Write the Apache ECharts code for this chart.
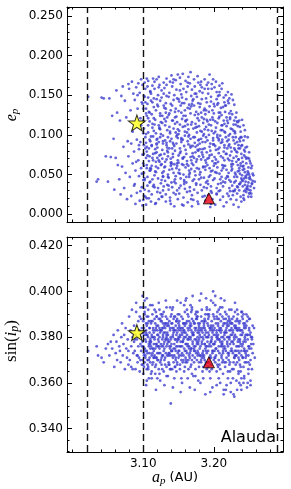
<!DOCTYPE html>
<html><head><meta charset="utf-8">
<script src="https://cdn.jsdelivr.net/npm/echarts@6/dist/echarts.min.js"></script>
<style>html,body{margin:0;padding:0;background:#fff}#c{width:291px;height:489px}</style>
</head><body><div id="c"></div>
<script>
// semi-major axis a_p (AU) of family members (shared by both panels)
const aP = [
3.022,3.034,3.036,3.041,3.044,3.047,3.050,3.052,3.054,3.056,
3.058,3.059,3.061,3.062,3.063,3.064,3.066,3.067,3.068,3.069,
3.070,3.071,3.072,3.073,3.074,3.075,3.076,3.077,3.078,3.079,
3.079,3.080,3.081,3.082,3.083,3.083,3.084,3.085,3.086,3.087,
3.087,3.088,3.089,3.089,3.090,3.091,3.091,3.092,3.093,3.093,
3.094,3.094,3.095,3.095,3.096,3.096,3.097,3.097,3.098,3.098,
3.099,3.099,3.099,3.100,3.100,3.100,3.101,3.101,3.101,3.102,
3.100,3.101,3.102,3.102,3.103,3.103,3.104,3.104,3.105,3.105,
3.100,3.101,3.101,3.102,3.103,3.103,3.104,3.104,3.105,3.105,
3.105,3.106,3.106,3.107,3.107,3.108,3.108,3.109,3.109,3.110,
3.106,3.106,3.107,3.107,3.108,3.108,3.109,3.109,3.110,3.110,
3.110,3.111,3.111,3.112,3.112,3.113,3.113,3.114,3.114,3.115,
3.111,3.111,3.112,3.112,3.113,3.113,3.114,3.114,3.115,3.115,
3.115,3.116,3.116,3.117,3.117,3.118,3.118,3.119,3.119,3.120,
3.116,3.116,3.117,3.117,3.118,3.118,3.119,3.119,3.120,3.120,
3.120,3.121,3.121,3.122,3.122,3.123,3.123,3.124,3.124,3.125,
3.121,3.121,3.122,3.122,3.123,3.123,3.124,3.124,3.125,3.125,
3.125,3.126,3.126,3.127,3.127,3.128,3.128,3.129,3.129,3.130,
3.126,3.126,3.127,3.127,3.128,3.128,3.129,3.129,3.130,3.130,
3.130,3.131,3.131,3.132,3.132,3.133,3.133,3.134,3.134,3.135,
3.131,3.131,3.132,3.132,3.133,3.133,3.134,3.134,3.135,3.135,
3.135,3.136,3.136,3.137,3.137,3.138,3.138,3.139,3.139,3.140,
3.136,3.136,3.137,3.137,3.138,3.138,3.139,3.139,3.140,3.140,
3.140,3.141,3.141,3.142,3.142,3.143,3.143,3.144,3.144,3.145,
3.141,3.141,3.142,3.142,3.143,3.143,3.144,3.144,3.145,3.145,
3.145,3.146,3.146,3.147,3.147,3.148,3.148,3.149,3.149,3.150,
3.146,3.146,3.147,3.147,3.148,3.148,3.149,3.149,3.150,3.150,
3.150,3.151,3.151,3.152,3.152,3.153,3.153,3.154,3.154,3.155,
3.151,3.151,3.152,3.152,3.153,3.153,3.154,3.154,3.155,3.155,
3.155,3.156,3.156,3.157,3.157,3.158,3.158,3.159,3.159,3.160,
3.156,3.156,3.157,3.157,3.158,3.158,3.159,3.159,3.160,3.160,
3.160,3.161,3.161,3.162,3.162,3.163,3.163,3.164,3.164,3.165,
3.161,3.161,3.162,3.162,3.163,3.163,3.164,3.164,3.165,3.165,
3.165,3.166,3.166,3.167,3.167,3.168,3.168,3.169,3.169,3.170,
3.166,3.166,3.167,3.167,3.168,3.168,3.169,3.169,3.170,3.170,
3.170,3.171,3.171,3.172,3.172,3.173,3.173,3.174,3.174,3.175,
3.171,3.171,3.172,3.172,3.173,3.173,3.174,3.174,3.175,3.175,
3.175,3.176,3.176,3.177,3.177,3.178,3.178,3.179,3.179,3.180,
3.176,3.176,3.177,3.177,3.178,3.178,3.179,3.179,3.180,3.180,
3.180,3.181,3.181,3.182,3.182,3.183,3.183,3.184,3.184,3.185,
3.181,3.181,3.182,3.182,3.183,3.183,3.184,3.184,3.185,3.185,
3.185,3.186,3.186,3.187,3.187,3.188,3.188,3.189,3.189,3.190,
3.186,3.186,3.187,3.187,3.188,3.188,3.189,3.189,3.190,3.190,
3.190,3.191,3.191,3.192,3.192,3.193,3.193,3.194,3.194,3.195,
3.191,3.191,3.192,3.192,3.193,3.193,3.194,3.194,3.195,3.195,
3.195,3.196,3.196,3.197,3.197,3.198,3.198,3.199,3.199,3.200,
3.196,3.196,3.197,3.197,3.198,3.198,3.199,3.199,3.200,3.200,
3.200,3.201,3.201,3.202,3.202,3.203,3.203,3.204,3.204,3.205,
3.201,3.201,3.202,3.202,3.203,3.203,3.204,3.204,3.205,3.205,
3.205,3.206,3.206,3.207,3.207,3.208,3.208,3.209,3.209,3.210,
3.206,3.206,3.207,3.207,3.208,3.208,3.209,3.209,3.210,3.210,
3.210,3.211,3.211,3.212,3.212,3.213,3.213,3.214,3.214,3.215,
3.211,3.211,3.212,3.212,3.213,3.213,3.214,3.214,3.215,3.215,
3.215,3.216,3.216,3.217,3.217,3.218,3.218,3.219,3.219,3.220,
3.216,3.216,3.217,3.217,3.218,3.218,3.219,3.219,3.220,3.220,
3.220,3.221,3.221,3.222,3.222,3.223,3.223,3.224,3.224,3.225,
3.221,3.221,3.222,3.222,3.223,3.223,3.224,3.224,3.225,3.225,
3.225,3.226,3.226,3.227,3.227,3.228,3.228,3.229,3.229,3.230,
3.226,3.226,3.227,3.227,3.228,3.228,3.229,3.229,3.230,3.230,
3.230,3.231,3.231,3.232,3.232,3.233,3.233,3.234,3.234,3.235,
3.231,3.231,3.232,3.232,3.233,3.233,3.234,3.234,3.235,3.235,
3.235,3.236,3.236,3.237,3.237,3.238,3.238,3.239,3.239,3.240,
3.236,3.236,3.237,3.237,3.238,3.238,3.239,3.239,3.240,3.240,
3.240,3.241,3.241,3.242,3.242,3.243,3.243,3.244,3.244,3.245,
3.241,3.241,3.242,3.242,3.243,3.243,3.244,3.244,3.245,3.245,
3.245,3.246,3.246,3.247,3.247,3.248,3.248,3.249,3.249,3.250,
3.246,3.247,3.248,3.249,3.250,3.250,3.251,3.252,3.253,3.255,
3.250,3.251,3.252,3.252,3.253,3.254,3.254,3.256,3.257,3.258,
3.085,3.088,3.090,3.092,3.094,3.096,3.097,3.098,3.099,3.100,
3.102,3.104,3.106,3.108,3.110,3.112,3.114,3.116,3.118,3.120,
3.103,3.105,3.107,3.109,3.111,3.113,3.115,3.117,3.119,3.121,
3.122,3.124,3.126,3.128,3.130,3.132,3.134,3.136,3.138,3.140,
3.123,3.125,3.127,3.129,3.131,3.133,3.135,3.137,3.139,3.141,
3.142,3.144,3.146,3.148,3.150,3.152,3.154,3.156,3.158,3.160,
3.143,3.145,3.147,3.149,3.151,3.153,3.155,3.157,3.159,3.161,
3.162,3.164,3.166,3.168,3.170,3.172,3.174,3.176,3.178,3.180,
3.163,3.165,3.167,3.169,3.171,3.173,3.175,3.177,3.179,3.181,
3.182,3.184,3.186,3.188,3.190,3.192,3.194,3.196,3.198,3.200,
3.183,3.185,3.187,3.189,3.191,3.193,3.195,3.197,3.199,3.201,
3.202,3.204,3.206,3.208,3.210,3.212,3.214,3.216,3.218,3.220,
3.203,3.205,3.207,3.209,3.211,3.213,3.215,3.217,3.219,3.221,
3.222,3.224,3.226,3.228,3.230,3.232,3.234,3.236,3.238,3.240,
3.223,3.225,3.227,3.229,3.231,3.233,3.235,3.237,3.239,3.241,
3.242,3.243,3.244,3.246,3.247,3.248,3.249,3.251,3.252,3.254,
3.105,3.118,3.127,3.138,3.146,3.157,3.168,3.177,3.187,3.196,
3.110,3.122,3.133,3.143,3.152,3.163,3.173,3.183,3.192,3.208,
3.101,3.109,3.119,3.128,3.139,3.148,3.158,3.167,3.178,3.188,
3.196,3.204,3.213,3.221,3.229,3.236,3.243,3.249,3.253,3.212,
3.104,3.113,3.124,3.132,3.141,3.150,3.160,3.169,3.179,3.189,
3.199,3.207,3.215,3.222,3.230,3.238,3.245,3.250,3.255,3.233
];
// proper eccentricity e_p
const eP = [
.148,.041,.044,.147,.146,.073,.041,.146,.072,.124,
.095,.031,.071,.156,.128,.062,.044,.118,.025,.149,
.060,.161,.085,.033,.143,.052,.122,.019,.092,.164,
.073,.158,.047,.131,.089,.023,.167,.064,.152,.036,
.079,.144,.055,.013,.160,.094,.027,.133,.068,.165,
.048,.082,.153,.017,.121,.091,.058,.170,.034,.141,
.075,.011,.163,.102,.043,.133,.087,.061,.023,.148,
.118,.052,.166,.031,.097,.141,.071,.012,.124,.085,
.064,.149,.108,.043,.158,.022,.090,.133,.058,.171,
.079,.161,.036,.112,.147,.067,.020,.128,.094,.055,
.139,.047,.103,.168,.083,.029,.117,.073,.154,.041,
.092,.016,.152,.061,.126,.044,.109,.171,.076,.135,
.057,.143,.087,.025,.114,.162,.068,.098,.037,.121,
.105,.049,.167,.082,.013,.131,.060,.145,.094,.071,
.158,.034,.119,.077,.102,.053,.170,.088,.028,.138,
.084,.150,.045,.112,.019,.163,.066,.127,.097,.039,
.136,.058,.091,.173,.074,.108,.027,.143,.062,.116,
.101,.022,.156,.070,.124,.048,.089,.166,.035,.134,
.063,.147,.081,.115,.030,.099,.152,.054,.120,.076,
.159,.042,.093,.128,.016,.069,.171,.106,.084,.050,
.112,.060,.140,.025,.087,.163,.037,.122,.073,.097,
.078,.148,.031,.110,.056,.167,.092,.013,.131,.065,
.125,.046,.153,.083,.104,.021,.139,.070,.175,.040,
.095,.034,.161,.072,.118,.052,.144,.010,.086,.129,
.057,.137,.090,.166,.027,.108,.063,.150,.044,.114,
.080,.169,.039,.123,.098,.061,.146,.019,.107,.074,
.133,.048,.089,.157,.030,.116,.068,.176,.052,.101,
.065,.142,.026,.113,.083,.164,.045,.128,.096,.012,
.105,.056,.172,.077,.137,.036,.091,.151,.063,.120,
.147,.070,.110,.021,.158,.086,.043,.131,.099,.059,
.094,.177,.050,.124,.072,.140,.032,.111,.168,.081,
.118,.040,.154,.067,.103,.015,.134,.088,.173,.055,
.076,.145,.028,.119,.092,.161,.061,.107,.047,.138,
.100,.165,.034,.084,.127,.057,.149,.010,.116,.073,
.052,.133,.095,.179,.068,.113,.024,.157,.086,.042,
.143,.062,.108,.031,.170,.090,.125,.049,.078,.152,
.097,.018,.137,.071,.161,.054,.114,.085,.039,.129,
.066,.148,.103,.027,.121,.080,.166,.044,.094,.135,
.110,.058,.174,.087,.140,.013,.073,.118,.155,.050,
.089,.163,.037,.128,.069,.104,.145,.022,.082,.115,
.139,.053,.095,.167,.030,.122,.075,.153,.060,.099,
.072,.131,.046,.158,.107,.017,.091,.146,.065,.119,
.101,.034,.170,.083,.126,.056,.110,.040,.163,.078,
.141,.062,.093,.024,.152,.113,.047,.136,.085,.009,
.117,.070,.166,.038,.100,.129,.058,.176,.089,.049,
.080,.148,.029,.105,.164,.067,.122,.043,.096,.139,
.054,.112,.158,.075,.019,.131,.088,.170,.061,.102,
.127,.045,.160,.086,.012,.109,.064,.145,.033,.097,
.072,.136,.053,.117,.167,.081,.025,.154,.100,.059,
.115,.038,.149,.077,.093,.162,.051,.128,.018,.106,
.066,.140,.029,.121,.084,.154,.044,.099,.134,.073,
.090,.158,.047,.112,.062,.135,.022,.079,.147,.104,
.125,.055,.094,.165,.035,.071,.118,.010,.087,.141,
.068,.129,.040,.150,.097,.056,.111,.026,.083,.143,
.103,.061,.137,.076,.015,.122,.048,.092,.154,.070,
.115,.052,.086,.033,.146,.074,.101,.019,.130,.060,
.094,.140,.043,.068,.120,.029,.084,.108,.055,.151,
.079,.126,.036,.097,.063,.012,.113,.047,.138,.089,
.057,.107,.024,.144,.071,.093,.040,.118,.081,.031,
.104,.050,.122,.073,.018,.091,.035,.062,.111,.083,
.042,.097,.066,.128,.026,.078,.054,.116,.087,.009,
.069,.118,.038,.092,.051,.022,.104,.076,.045,.119,
.058,.030,.083,.110,.064,.040,.097,.016,.071,.049,
.087,.035,.060,.112,.024,.074,.045,.098,.053,.031,
.066,.042,.093,.020,.057,.081,.037,.106,.048,.072,
.041,.064,.028,.085,.050,.036,.097,.022,.059,.045,
.070,.032,.054,.040,.078,.026,.047,.035,.058,.042,
.050,.067,.030,.044,.022,.061,.038,.049,.033,.041,
.104,.038,.066,.150,.087,.029,.112,.051,.139,.018,
.045,.101,.074,.129,.058,.086,.035,.113,.066,.095,
.083,.062,.121,.040,.098,.071,.146,.054,.078,.033,
.068,.124,.043,.092,.059,.117,.080,.036,.102,.063,
.109,.075,.052,.137,.066,.090,.047,.127,.061,.083,
.076,.041,.103,.064,.130,.051,.094,.071,.038,.117,
.088,.122,.058,.096,.033,.079,.140,.062,.104,.047,
.063,.098,.029,.136,.077,.044,.109,.069,.126,.082,
.113,.050,.086,.064,.145,.097,.037,.081,.057,.105,
.046,.091,.120,.068,.033,.106,.074,.142,.055,.088,
.078,.059,.133,.097,.042,.071,.119,.027,.093,.064,
.104,.052,.082,.123,.039,.091,.061,.137,.076,.047,
.069,.138,.095,.030,.112,.058,.084,.045,.118,.099,
.088,.041,.067,.105,.052,.079,.034,.095,.061,.043,
.122,.063,.029,.083,.113,.047,.069,.038,.086,.056,
.061,.029,.079,.046,.034,.071,.052,.027,.064,.039,
.020,.014,.022,.017,.025,.011,.019,.016,.023,.013,
.155,.160,.149,.170,.156,.166,.152,.160,.158,.150,
.076,.055,.089,.047,.065,.100,.041,.072,.093,.060,
.035,.026,.041,.023,.029,.055,.018,.031,.026,.106,
.127,.141,.107,.133,.118,.145,.124,.139,.111,.131,
.119,.128,.114,.127,.102,.097,.084,.070,.051,.117
];
// proper sine of inclination sin(i_p)
const sP = [
.374,.376,.372,.371,.369,.375,.377,.372,.378,.375,
.381,.367,.373,.378,.370,.383,.376,.374,.369,.380,
.386,.372,.377,.381,.366,.384,.375,.371,.379,.368,
.374,.389,.370,.383,.376,.367,.392,.380,.373,.378,
.385,.374,.381,.366,.395,.372,.379,.369,.387,.376,
.371,.383,.389,.365,.377,.393,.380,.374,.368,.384,
.378,.370,.398,.382,.364,.387,.375,.381,.372,.390,
.376,.384,.369,.391,.379,.372,.386,.381,.366,.397,
.382,.367,.388,.375,.371,.393,.378,.383,.361,.374,
.385,.373,.368,.380,.389,.376,.362,.384,.371,.379,
.370,.381,.392,.366,.377,.387,.373,.382,.369,.375,
.378,.364,.386,.372,.381,.390,.368,.375,.383,.371,
.387,.376,.365,.380,.373,.394,.384,.369,.377,.382,
.374,.388,.379,.367,.383,.371,.391,.376,.385,.362,
.380,.372,.386,.375,.368,.384,.377,.389,.370,.381,
.373,.385,.381,.366,.378,.392,.375,.383,.369,.387,
.379,.370,.388,.376,.384,.364,.382,.373,.390,.377,
.383,.376,.368,.389,.372,.380,.386,.374,.365,.378,
.371,.387,.379,.366,.384,.376,.391,.382,.370,.385,
.375,.382,.368,.386,.373,.380,.393,.377,.388,.363,
.384,.371,.379,.389,.367,.376,.382,.372,.386,.378,
.381,.373,.369,.387,.376,.384,.366,.351,.379,.390,
.372,.385,.378,.368,.383,.375,.389,.380,.374,.386,
.377,.366,.384,.381,.371,.388,.375,.362,.383,.379,
.386,.374,.380,.393,.369,.382,.377,.372,.389,.367,
.375,.385,.370,.381,.365,.388,.378,.373,.384,.380,
.383,.371,.387,.376,.382,.368,.390,.379,.374,.386,
.379,.372,.385,.368,.381,.395,.376,.384,.370,.360,
.387,.374,.380,.366,.383,.378,.389,.372,.382,.376,
.373,.384,.369,.379,.386,.375,.382,.391,.367,.380,
.378,.388,.372,.383,.365,.380,.374,.385,.396,.371,
.382,.370,.377,.387,.373,.362,.384,.379,.389,.375,
.386,.374,.381,.369,.390,.377,.383,.366,.380,.372,
.376,.384,.371,.379,.386,.368,.391,.364,.382,.378,
.385,.373,.380,.394,.375,.383,.370,.388,.377,.381,
.372,.382,.387,.369,.376,.384,.374,.390,.366,.379,
.381,.363,.375,.386,.379,.371,.383,.376,.388,.373,
.384,.377,.370,.380,.389,.373,.386,.367,.382,.375,
.378,.388,.391,.374,.383,.361,.379,.385,.372,.381,
.386,.380,.372,.384,.369,.377,.392,.365,.382,.374,
.376,.383,.370,.389,.378,.387,.373,.380,.367,.384,
.379,.387,.371,.377,.384,.368,.390,.374,.382,.366,
.385,.372,.381,.388,.375,.383,.369,.380,.393,.376,
.373,.386,.380,.367,.382,.376,.389,.371,.384,.362,
.378,.390,.374,.385,.369,.381,.377,.392,.372,.383,
.384,.376,.368,.380,.387,.373,.382,.377,.390,.370,
.371,.385,.379,.366,.358,.383,.374,.395,.381,.377,
.383,.374,.388,.369,.378,.386,.372,.380,.365,.391,
.377,.384,.371,.398,.381,.375,.389,.382,.368,.379,
.380,.367,.385,.376,.392,.373,.383,.378,.360,.387,
.374,.381,.370,.388,.379,.384,.366,.390,.376,.382,
.384,.377,.372,.389,.369,.380,.364,.386,.375,.381,
.371,.383,.378,.393,.385,.374,.388,.357,.382,.369,
.379,.386,.367,.374,.383,.390,.371,.377,.385,.362,
.382,.375,.388,.369,.359,.384,.378,.380,.373,.387,
.376,.389,.370,.383,.379,.386,.365,.374,.381,.392,
.385,.372,.380,.368,.387,.377,.383,.360,.375,.384,
.378,.386,.366,.382,.373,.355,.389,.371,.380,.384,
.388,.374,.362,.383,.377,.369,.385,.379,.391,.372,
.381,.372,.387,.376,.361,.384,.369,.390,.378,.374,
.385,.368,.380,.374,.357,.388,.376,.383,.371,.364,
.379,.386,.373,.368,.383,.359,.377,.391,.372,.381,
.370,.384,.378,.387,.365,.381,.374,.362,.389,.376,
.383,.371,.388,.378,.360,.375,.385,.369,.380,.373,
.377,.382,.367,.390,.374,.363,.386,.379,.371,.384,
.378,.369,.385,.374,.381,.360,.389,.376,.366,.383,
.372,.387,.379,.364,.384,.375,.381,.370,.377,.373,
.388,.368,.382,.359,.375,.380,.366,.377,.384,.371,
.366,.379,.391,.372,.383,.370,.388,.376,.393,.368,
.396,.359,.386,.370,.394,.362,.380,.392,.357,.383,
.374,.389,.367,.384,.378,.387,.371,.364,.389,.376,
.395,.361,.383,.372,.359,.396,.385,.368,.393,.374,
.380,.370,.390,.377,.386,.363,.379,.373,.366,.392,
.358,.389,.374,.396,.371,.384,.362,.378,.394,.369,
.383,.367,.387,.376,.390,.356,.381,.370,.386,.397,
.392,.370,.358,.385,.398,.374,.363,.389,.377,.396,
.376,.387,.367,.393,.381,.357,.391,.372,.384,.360,
.399,.372,.386,.355,.392,.380,.365,.396,.374,.389,
.383,.362,.377,.397,.369,.390,.356,.384,.400,.371,
.394,.359,.386,.368,.397,.376,.355,.391,.382,.365,
.375,.388,.362,.393,.380,.370,.396,.357,.386,.373,
.392,.356,.381,.366,.395,.372,.387,.360,.383,.391,
.369,.386,.378,.354,.384,.392,.365,.379,.357,.371,
.386,.362,.374,.390,.358,.381,.369,.388,.361,.379,
.381,.377,.384,.372,.379,.386,.375,.382,.370,.378,
.377,.373,.381,.384,.376,.379,.386,.371,.388,.383,
.373,.378,.371,.381,.376,.369,.383,.374,.378,.387,
.378,.383,.373,.380,.371,.376,.384,.372,.380,.377,
.382,.375,.388,.379,.372,.383,.377,.392,.369,.376,
.385,.379,.376,.388,.374,.367,.381,.376,.385,.383
];
// parent body markers
const starPoint = {a: 3.091, e: 0.115, s: 0.382};
const trianglePoint = {a: 3.193, e: 0.020, s: 0.369};
// family boundaries (dashed vertical lines)
const boundaries = [3.016, 3.100, 3.286];
// axis limits and ticks
const aRange = [2.992, 3.298];
const eRange = [-0.0098, 0.2612];
const sRange = [0.3298, 0.4238];
const aMajor = [3.10, 3.20];
const aMinor = [3.00,3.02,3.04,3.06,3.08,3.12,3.14,3.16,3.18,3.22,3.24,3.26,3.28];
const eMajor = [0.000,0.050,0.100,0.150,0.200,0.250];
const eMinor = [0.01,0.02,0.03,0.04,0.06,0.07,0.08,0.09,0.11,0.12,0.13,0.14,0.16,0.17,0.18,0.19,0.21,0.22,0.23,0.24,0.26];
const sMajor = [0.340,0.360,0.380,0.400,0.420];
const sMinor = [0.330,0.335,0.345,0.350,0.355,0.365,0.370,0.375,0.385,0.390,0.395,0.405,0.410,0.415];

const FONT = 'DejaVu Sans';
const n = Math.min(aP.length, eP.length, sP.length);
const topData = [], botData = [];
for (let i = 0; i < n; i++) { topData.push([aP[i], eP[i]]); botData.push([aP[i], sP[i]]); }

function mkAxes(dim, gridIndex, range, major, minor, labelsOn, digits) {
  const pos = dim === 'x' ? ['bottom', 'top'] : ['left', 'right'];
  const out = [];
  pos.forEach((p, k) => {
    [true, false].forEach(isMajor => {
      out.push({
        type: 'value', gridIndex, position: p, min: range[0], max: range[1],
        splitLine: {show: false},
        axisLine: {show: isMajor, onZero: false, lineStyle: {color: '#000', width: 1}},
        axisTick: {show: true, inside: true, length: isMajor ? 5 : 2.5,
                   customValues: isMajor ? major : minor, lineStyle: {color: '#000', width: 1}},
        axisLabel: {show: isMajor && k === 0 && labelsOn, customValues: major,
                    formatter: v => Number(v).toFixed(digits), color: '#000',
                    fontSize: 12, fontFamily: FONT, margin: dim === 'x' ? 6 : 4}
      });
    });
  });
  return out;
}
const xAxis = [...mkAxes('x', 0, aRange, aMajor, aMinor, false, 2), ...mkAxes('x', 1, aRange, aMajor, aMinor, true, 2)];
const yAxis = [...mkAxes('y', 0, eRange, eMajor, eMinor, true, 3), ...mkAxes('y', 1, sRange, sMajor, sMinor, true, 3)];

const starPath = 'path://M50,0 L61.8,35.1 L98.5,35.3 L69,57.3 L79.9,92.7 L50,71.3 L20.1,92.7 L31,57.3 L1.5,35.3 L38.2,35.1 Z';
const dots = {color: '#3f3fcf'};
const dashLine = {
  silent: true, symbol: ['none', 'none'], label: {show: false},
  lineStyle: {type: [7, 4], color: '#111', width: 1.4},
  emphasis: {disabled: true},
  data: boundaries.map(v => ({xAxis: v}))
};

const series = [
  {type: 'scatter', xAxisIndex: 0, yAxisIndex: 0, data: topData, symbolSize: 2.8, itemStyle: dots, silent: true, markLine: dashLine, z: 2},
  {type: 'scatter', xAxisIndex: 4, yAxisIndex: 4, data: botData, symbolSize: 2.8, itemStyle: dots, silent: true, markLine: dashLine, z: 2},
  {type: 'scatter', xAxisIndex: 0, yAxisIndex: 0, data: [[starPoint.a, starPoint.e]], symbol: starPath, symbolSize: [17, 16], itemStyle: {color: '#ffff1a', borderColor: '#000', borderWidth: 1}, z: 5},
  {type: 'scatter', xAxisIndex: 4, yAxisIndex: 4, data: [[starPoint.a, starPoint.s]], symbol: starPath, symbolSize: [17, 16], itemStyle: {color: '#ffff1a', borderColor: '#000', borderWidth: 1}, z: 5},
  {type: 'scatter', xAxisIndex: 0, yAxisIndex: 0, data: [[trianglePoint.a, trianglePoint.e]], symbol: 'triangle', symbolSize: [11, 11], itemStyle: {color: '#e8000b', borderColor: '#000', borderWidth: 1}, z: 5},
  {type: 'scatter', xAxisIndex: 4, yAxisIndex: 4, data: [[trianglePoint.a, trianglePoint.s]], symbol: 'triangle', symbolSize: [11, 11], itemStyle: {color: '#e8000b', borderColor: '#000', borderWidth: 1}, z: 5}
];

const mathRich = {
  i: {fontFamily: 'Liberation Serif', fontStyle: 'italic', fontSize: 17, lineHeight: 18, color: '#000'},
  r: {fontFamily: 'Liberation Serif', fontSize: 17, lineHeight: 18, color: '#000'},
  sub: {fontFamily: 'Liberation Serif', fontStyle: 'italic', fontSize: 12, lineHeight: 10, verticalAlign: 'bottom', color: '#000'},
  n: {fontFamily: FONT, fontSize: 13, lineHeight: 18, color: '#000'}
};
const axRich = Object.assign({}, mathRich, {
  i: Object.assign({}, mathRich.i, {fontSize: 16}),
  sub: Object.assign({}, mathRich.sub, {fontSize: 11})
});

const chart = echarts.init(document.getElementById('c'), null, {renderer: 'canvas'});
chart.setOption({
  animation: false,
  backgroundColor: '#fff',
  grid: [
    {left: 67, top: 7, width: 216, height: 215},
    {left: 67, top: 237, width: 216, height: 215}
  ],
  xAxis, yAxis, series,
  graphic: [
    {type: 'text', x: 175, y: 478, style: {text: '{i|a}{sub|p}{n| (AU)}', rich: axRich, align: 'center', verticalAlign: 'middle'}},
    {type: 'text', x: 12, y: 115, rotation: Math.PI / 2, style: {text: '{i|e}{sub|p}', rich: axRich, align: 'center', verticalAlign: 'middle'}},
    {type: 'text', x: 12, y: 341, rotation: Math.PI / 2, style: {text: '{r|sin(}{i|i}{sub|p}{r|)}', rich: mathRich, align: 'center', verticalAlign: 'middle'}},
    {type: 'text', x: 276, y: 438, style: {text: 'Alauda', font: '16px "DejaVu Sans"', fill: '#000', align: 'right', verticalAlign: 'middle'}}
  ]
});
</script></body></html>
